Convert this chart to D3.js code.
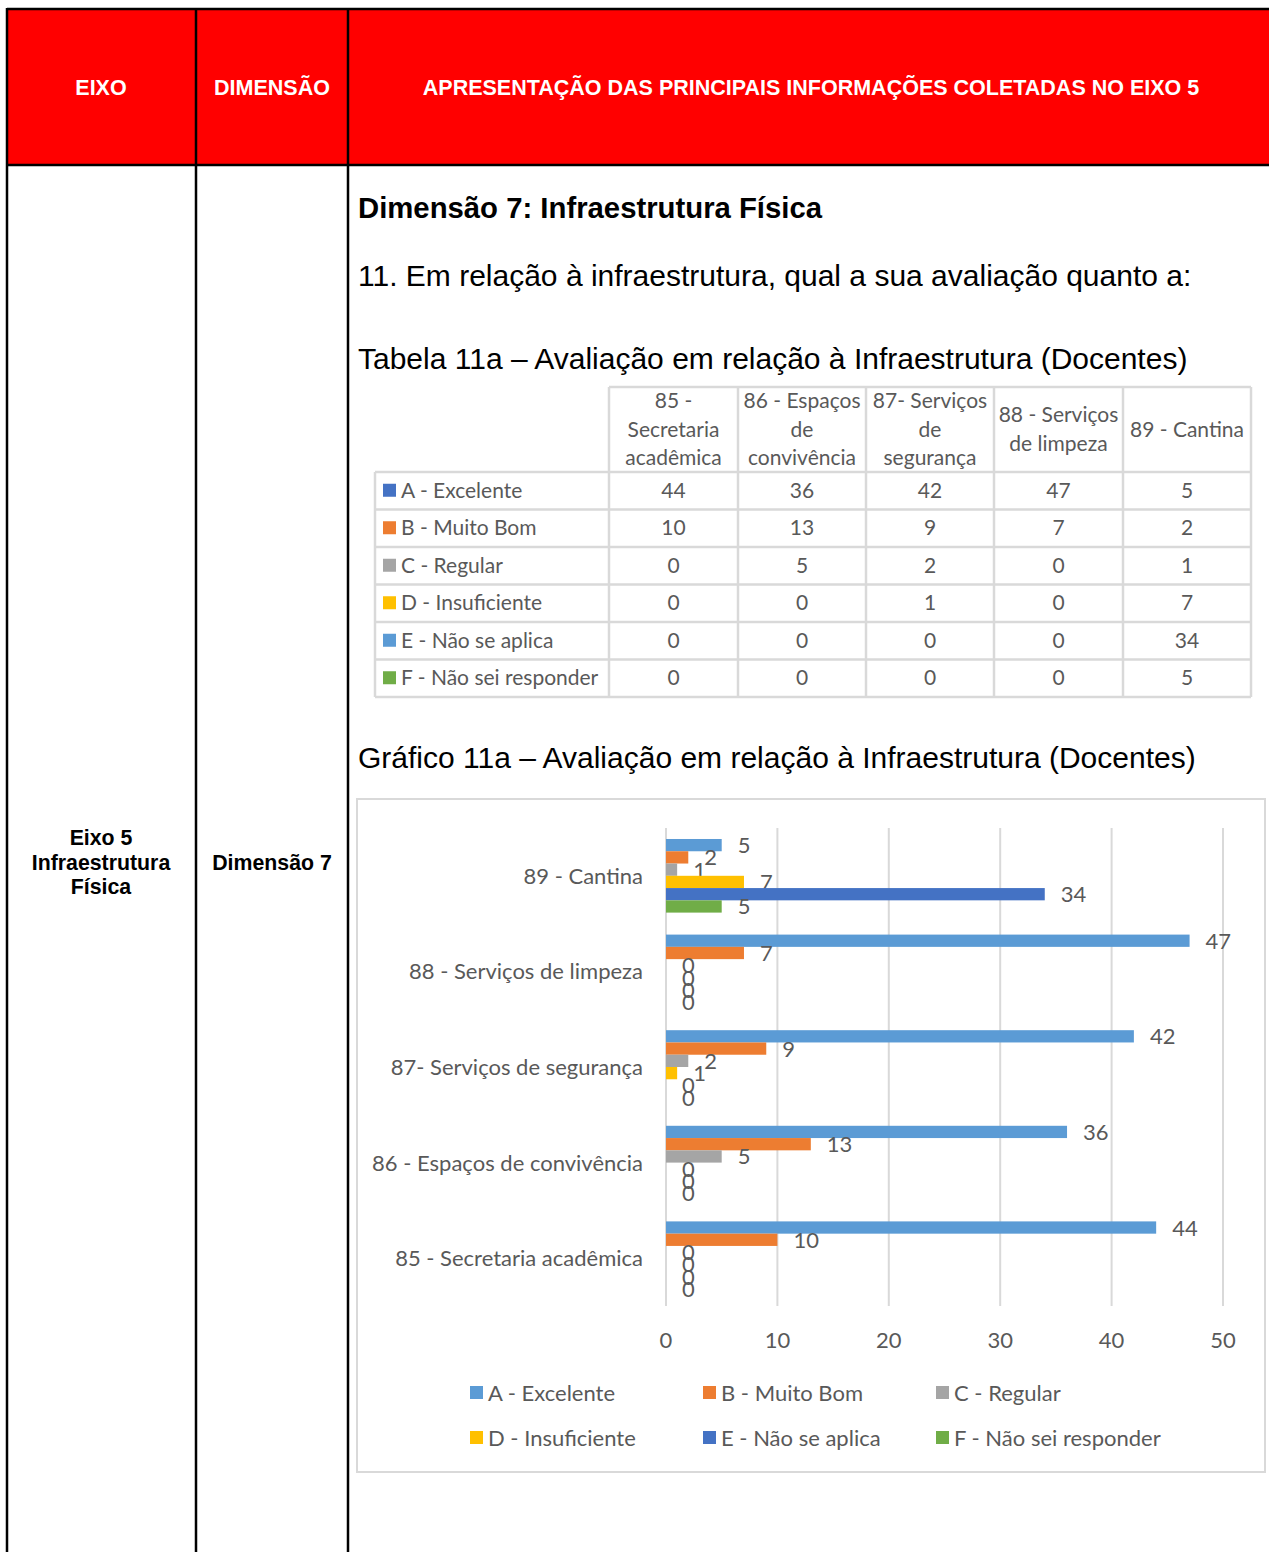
<!DOCTYPE html>
<html>
<head>
<meta charset="utf-8">
<script src="https://cdn.jsdelivr.net/npm/d3@7"></script>
<style>
  html, body { margin: 0; padding: 0; background: #fff; }
  svg { display: block; }
  .arial { font-family: "Liberation Sans", Arial, sans-serif; }
  .cal { font-family: Lato, "Open Sans", sans-serif; fill: #595959; }
</style>
</head>
<body>
<div id="page"></div>
<script>
// --- data ------------------------------------------------------------------
const categories = ["85 - Secretaria acadêmica", "86 - Espaços de convivência",
  "87- Serviços de segurança", "88 - Serviços de limpeza", "89 - Cantina"];
const tableHeaders = [["85 -", "Secretaria", "acadêmica"], ["86 - Espaços", "de", "convivência"],
  ["87- Serviços", "de", "segurança"], ["88 - Serviços", "de limpeza"], ["89 - Cantina"]];
const seriesNames = ["A - Excelente", "B - Muito Bom", "C - Regular", "D - Insuficiente",
  "E - Não se aplica", "F - Não sei responder"];
const valA = [44, 36, 42, 47, 5];
const valB = [10, 13, 9, 7, 2];
const valC = [0, 5, 2, 0, 1];
const valD = [0, 0, 1, 0, 7];
const valE = [0, 0, 0, 0, 34];
const valF = [0, 0, 0, 0, 5];
const seriesValues = [valA, valB, valC, valD, valE, valF];
const xTicks = [0, 10, 20, 30, 40, 50];
const tableColors = ["#4472C4", "#ED7D31", "#A5A5A5", "#FFC000", "#5B9BD5", "#70AD47"];
const chartColors = ["#5B9BD5", "#ED7D31", "#A5A5A5", "#FFC000", "#4472C4", "#70AD47"];

(function () {
const W = 1269, H = 1552;
const svg = d3.select("#page").append("svg").attr("width", W).attr("height", H);

// --- outer frame -----------------------------------------------------------
const topY = 9, headBottom = 165, colX = [7, 196, 348];
svg.append("rect").attr("x", colX[0]).attr("y", topY).attr("width", W - colX[0] + 2)
  .attr("height", headBottom - topY).attr("fill", "#FF0000");
const frame = svg.append("g").attr("stroke", "#000").attr("stroke-width", 2.5);
frame.append("line").attr("x1", colX[0]).attr("x2", W).attr("y1", topY).attr("y2", topY);
frame.append("line").attr("x1", colX[0]).attr("x2", W).attr("y1", headBottom).attr("y2", headBottom);
colX.forEach(x => frame.append("line").attr("x1", x).attr("x2", x).attr("y1", topY - 1).attr("y2", H));

const headTxt = [["EIXO", 101], ["DIMENSÃO", 272], ["APRESENTAÇÃO DAS PRINCIPAIS INFORMAÇÕES COLETADAS NO EIXO 5", 811]];
headTxt.forEach(([t, x]) => svg.append("text").attr("class", "arial").attr("x", x).attr("y", 95)
  .attr("text-anchor", "middle").attr("font-size", 21.5).attr("font-weight", "bold")
  .attr("fill", "#fff").text(t));

[["Eixo 5", 845], ["Infraestrutura", 870], ["Física", 894]].forEach(([t, y]) =>
  svg.append("text").attr("class", "arial").attr("x", 101).attr("y", y).attr("text-anchor", "middle")
    .attr("font-size", 21.3).attr("font-weight", "bold").text(t));
svg.append("text").attr("class", "arial").attr("x", 272).attr("y", 870).attr("text-anchor", "middle")
  .attr("font-size", 21.3).attr("font-weight", "bold").text("Dimensão 7");

svg.append("text").attr("class", "arial").attr("x", 358).attr("y", 218).attr("font-size", 29.3)
  .attr("font-weight", "bold").text("Dimensão 7: Infraestrutura Física");
svg.append("text").attr("class", "arial").attr("x", 358).attr("y", 286).attr("font-size", 30)
  .text("11. Em relação à infraestrutura, qual a sua avaliação quanto a:");
svg.append("text").attr("class", "arial").attr("x", 358).attr("y", 369).attr("font-size", 30)
  .text("Tabela 11a – Avaliação em relação à Infraestrutura (Docentes)");
svg.append("text").attr("class", "arial").attr("x", 358).attr("y", 768).attr("font-size", 30)
  .text("Gráfico 11a – Avaliação em relação à Infraestrutura (Docentes)");

// --- data table ------------------------------------------------------------
const tX = [375, 609, 738, 866, 994, 1123, 1251];
const tHeadTop = 387, tHeadBottom = 472, tBottom = 697;
const rowY = d3.scaleBand().domain(seriesNames).range([tHeadBottom, tBottom]);
const tb = svg.append("g");
const grid = tb.append("g").attr("stroke", "#D9D9D9").attr("stroke-width", 2.5);
grid.append("line").attr("x1", tX[1]).attr("x2", tX[6]).attr("y1", tHeadTop).attr("y2", tHeadTop);
[tHeadBottom, ...seriesNames.map(s => rowY(s) + rowY.bandwidth())].forEach(y =>
  grid.append("line").attr("x1", tX[0]).attr("x2", tX[6]).attr("y1", y).attr("y2", y));
grid.append("line").attr("x1", tX[0]).attr("x2", tX[0]).attr("y1", tHeadBottom).attr("y2", tBottom);
tX.slice(1).forEach(x => grid.append("line").attr("x1", x).attr("x2", x).attr("y1", tHeadTop).attr("y2", tBottom));

tableHeaders.forEach((lines, c) => {
  const cx = (tX[c + 1] + tX[c + 2]) / 2;
  const cy = (tHeadTop + tHeadBottom) / 2;
  lines.forEach((l, i) => tb.append("text").attr("class", "cal").attr("x", cx)
    .attr("y", cy + (i - (lines.length - 1) / 2) * 28.5 + 7).attr("text-anchor", "middle")
    .attr("font-size", 21).text(l));
});
seriesNames.forEach((s, r) => {
  const y = rowY(s) + rowY.bandwidth() / 2;
  tb.append("rect").attr("x", 383).attr("y", y - 7).attr("width", 13).attr("height", 13).attr("fill", tableColors[r]);
  tb.append("text").attr("class", "cal").attr("x", 401).attr("y", y + 7).attr("font-size", 21).text(s);
  seriesValues[r].forEach((v, c) => tb.append("text").attr("class", "cal")
    .attr("x", (tX[c + 1] + tX[c + 2]) / 2).attr("y", y + 7).attr("text-anchor", "middle")
    .attr("font-size", 21).text(v));
});

// --- bar chart -------------------------------------------------------------
svg.append("rect").attr("x", 357).attr("y", 799).attr("width", 908).attr("height", 673)
  .attr("fill", "#fff").attr("stroke", "#D9D9D9").attr("stroke-width", 2);

const x = d3.scaleLinear().domain([0, 50]).range([666, 1223]);
const y0 = d3.scaleBand().domain(categories.slice().reverse()).range([828, 1306])
  .paddingInner(0.23).paddingOuter(0.115);
const y1 = d3.scaleBand().domain(seriesNames).range([0, y0.bandwidth()]);

const chart = svg.append("g");
chart.append("g").selectAll("line").data(xTicks).join("line")
  .attr("x1", d => x(d)).attr("x2", d => x(d)).attr("y1", 828).attr("y2", 1306)
  .attr("stroke", "#D9D9D9").attr("stroke-width", 2);

const groups = chart.selectAll("g.cat").data(categories).join("g")
  .attr("class", "cat").attr("transform", d => `translate(0,${y0(d)})`);
groups.each(function (cat, ci) {
  const g = d3.select(this);
  seriesNames.forEach((s, si) => {
    const v = seriesValues[si][ci];
    g.append("rect").attr("x", x(0)).attr("y", y1(s)).attr("width", x(v) - x(0))
      .attr("height", y1.bandwidth()).attr("fill", chartColors[si]);
    g.append("text").attr("class", "cal").attr("x", x(v) + 16)
      .attr("y", y1(s) + y1.bandwidth() / 2 + 8).attr("font-size", 22).attr("fill", "#404040").text(v);
  });
  g.append("text").attr("class", "cal").attr("x", 643).attr("y", y0.bandwidth() / 2 + 8)
    .attr("text-anchor", "end").attr("font-size", 22).text(cat);
});

chart.append("g").selectAll("text").data(xTicks).join("text").attr("class", "cal")
  .attr("x", d => x(d)).attr("y", 1348).attr("text-anchor", "middle").attr("font-size", 22).text(d => d);

const legendCols = [470, 703, 936], legendRows = [1393, 1438];
seriesNames.forEach((s, i) => {
  const lx = legendCols[i % 3], ly = legendRows[Math.floor(i / 3)];
  chart.append("rect").attr("x", lx).attr("y", ly - 7).attr("width", 13).attr("height", 13).attr("fill", chartColors[i]);
  chart.append("text").attr("class", "cal").attr("x", lx + 18).attr("y", ly + 8).attr("font-size", 22).text(s);
});
})();
</script>
</body>
</html>
